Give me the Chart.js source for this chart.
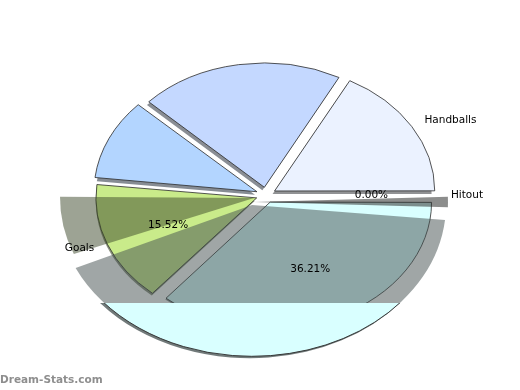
<!DOCTYPE html>
<html>
<head>
<meta charset="utf-8">
<script src="https://cdn.jsdelivr.net/npm/chart.js@4.4.0/dist/chart.umd.min.js"></script>
<style>
  html, body { margin: 0; padding: 0; background: #fff; }
  #wrap { position: relative; width: 520px; height: 390px; }
  #brand { position: absolute; left: 0; top: 373px; font: bold 10.5px "DejaVu Sans", sans-serif; color: #8e8e8e; }
</style>
</head>
<body>
<div id="wrap">
  <canvas id="pie"></canvas>
  <div id="brand">Dream-Stats.com</div>
</div>
<script>
// slices in matplotlib order: counter-clockwise from 3 o'clock
const categories = ["Handballs", "", "", "Goals", "", "Hitout"];
const values = [10, 12, 6, 9, 21, 0];
const colors = ["#ebf2ff", "#c4d8ff", "#b3d5ff", "#c9eb8a", "#d9ffff", "#c8c8c8"];
const showPct = [false, false, false, true, true, true];

const total = values.reduce((a, b) => a + b, 0);
const n = values.length;
const SY = 0.78;      // pie is squashed vertically
const EXPLODE = 40;   // chart.js moves a slice by offset / 4

function wedge(ctx, x, y, rx, ry, a0, a1) {
  ctx.beginPath();
  ctx.moveTo(x, y);
  ctx.ellipse(x, y, rx, ry, 0, a0, a1);
  ctx.closePath();
}

function shade(hex, alpha) {
  const v = parseInt(hex.slice(1), 16);
  const r = Math.round(((v >> 16) & 255) * 0.3);
  const g = Math.round(((v >> 8) & 255) * 0.3);
  const b = Math.round((v & 255) * 0.3);
  return "rgba(" + r + "," + g + "," + b + "," + alpha + ")";
}

function geom(a) {
  const mid = (a.startAngle + a.endAngle) / 2;
  const off = EXPLODE / 4;
  return {
    mid: mid,
    x: a.x + Math.cos(mid) * off,
    y: a.y + SY * Math.sin(mid) * off,
    r: a.outerRadius,
  };
}

const squash = {
  id: "squash",
  beforeDatasetsDraw(chart) {
    const ctx = chart.ctx;
    const arcs = chart.getDatasetMeta(0).data;
    // thin drop shadow below each wedge
    arcs.forEach((a, j) => {
      if (a.endAngle - a.startAngle <= 0) return;
      const i = n - 1 - j;
      const g = geom(a);
      ctx.save();
      ctx.fillStyle = shade(colors[i], 0.6);
      wedge(ctx, g.x - 2, g.y + 3, g.r, g.r * SY, a.startAngle, a.endAngle);
      ctx.fill();
      ctx.restore();
    });
    const c = arcs[0];
    ctx.save();
    ctx.translate(c.x, c.y);
    ctx.scale(1, SY);
    ctx.translate(-c.x, -c.y);
  },
  afterDatasetsDraw(chart) {
    const ctx = chart.ctx;
    ctx.restore();
    const arcs = chart.getDatasetMeta(0).data;
    const W = chart.width, H = chart.height;
    const c = arcs[0];
    const goals = arcs[n - 1 - 3], kicks = arcs[n - 1 - 4], hit = arcs[n - 1 - 5];
    const gm = (goals.startAngle + goals.endAngle) / 2;
    const R = 1.22 * kicks.outerRadius;
    const cut = c.y + 0.87 * kicks.outerRadius * SY;

    // oversized shadows, as in the original render
    ctx.save();
    ctx.fillStyle = shade(colors[3], 0.5);
    wedge(ctx, c.x - 12, c.y + 3, R, R * SY, gm, goals.endAngle - 0.1);
    ctx.fill();
    ctx.fillStyle = "rgba(45,47,45,0.55)";
    wedge(ctx, c.x - 12, c.y + 7, R, R * SY, hit.startAngle - 0.035, hit.startAngle + 0.035);
    ctx.fill();
    ctx.restore();

    ctx.save();
    ctx.beginPath();
    ctx.rect(0, 0, W, cut);
    ctx.clip();
    ctx.fillStyle = shade(colors[4], 0.5);
    wedge(ctx, c.x - 14, c.y + 10, R, R * SY, kicks.startAngle + 0.1, gm - 0.05);
    ctx.fill();
    ctx.restore();

    ctx.save();
    ctx.beginPath();
    ctx.rect(0, cut, W, H - cut);
    ctx.clip();
    ctx.fillStyle = shade(colors[4], 0.75);
    wedge(ctx, c.x - 16, c.y + 12, R, R * SY, kicks.startAngle + 0.1, gm - 0.05);
    ctx.fill();
    ctx.fillStyle = colors[4];
    ctx.strokeStyle = "#2b2b2b";
    ctx.lineWidth = 0.9;
    wedge(ctx, c.x - 14, c.y + 10, R, R * SY, kicks.startAngle + 0.1, gm - 0.05);
    ctx.fill();
    ctx.stroke();
    ctx.restore();

    // labels and percentages
    ctx.save();
    ctx.font = '10.5px "DejaVu Sans", sans-serif';
    ctx.fillStyle = "#000";
    ctx.textBaseline = "middle";
    arcs.forEach((a, j) => {
      const i = n - 1 - j;
      const g = geom(a);
      const cs = Math.cos(g.mid), sn = Math.sin(g.mid);
      if (categories[i]) {
        ctx.textAlign = cs >= 0 ? "left" : "right";
        ctx.fillText(categories[i], g.x + 1.1 * g.r * cs, g.y + 1.1 * g.r * SY * sn);
      }
      if (showPct[i]) {
        ctx.textAlign = "center";
        const pct = (100 * values[i] / total).toFixed(2) + "%";
        ctx.fillText(pct, g.x + 0.6 * g.r * cs, g.y + 0.6 * g.r * SY * sn);
      }
    });
    ctx.restore();
  },
};

new Chart(document.getElementById("pie"), {
  type: "pie",
  data: {
    labels: categories.slice().reverse(),
    datasets: [
      {
        data: values.slice().reverse(),
        backgroundColor: colors.slice().reverse(),
        borderColor: "#2b2b2b",
        borderWidth: 0.9,
        offset: EXPLODE,
        hoverOffset: 0,
      },
    ],
  },
  options: {
    responsive: true,
    maintainAspectRatio: false,
    animation: false,
    events: [],
    rotation: 90,
    radius: 159,
    layout: { padding: { left: 12, right: 0, top: 0, bottom: 0 } },
    plugins: {
      legend: { display: false },
      tooltip: { enabled: false },
    },
  },
  plugins: [squash],
});
</script>
</body>
</html>
